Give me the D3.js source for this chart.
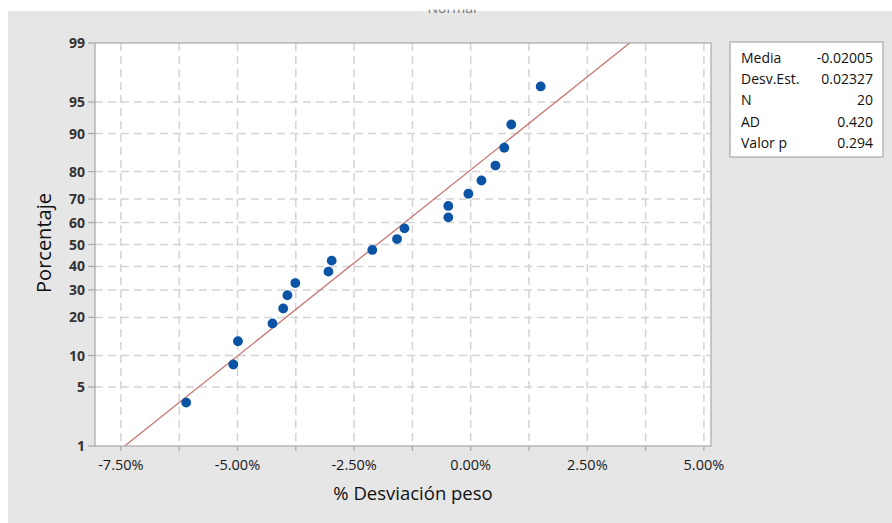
<!DOCTYPE html>
<html>
<head>
<meta charset="utf-8">
<script src="https://cdn.jsdelivr.net/npm/d3@7"></script>
<style>
  body { margin: 0; background: #fff; }
  svg { display: block; font-family: "Open Sans", "Noto Sans", sans-serif; }
</style>
</head>
<body>
<svg id="chart"></svg>
<script>
// % desviación peso, ordenados
var desviacion = [-6.10, -5.09, -4.99, -4.25, -4.02, -3.93, -3.76, -3.05, -2.98, -2.11,
                  -1.58, -1.42, -0.48, -0.48, -0.05, 0.23, 0.53, 0.72, 0.87, 1.50];
// porcentaje (rango mediano) de cada punto
var porcentaje = [3.4, 8.3, 13.2, 18.1, 23.0, 27.9, 32.8, 37.7, 42.6, 47.5,
                  52.5, 57.4, 62.3, 67.2, 72.1, 77.0, 81.9, 86.8, 91.7, 96.6];
var yTicks = [1, 5, 10, 20, 30, 40, 50, 60, 70, 80, 90, 95, 99];
var xTicks = [-7.5, -5, -2.5, 0, 2.5, 5];
var xGrid = [-7.5, -6.25, -5, -3.75, -2.5, -1.25, 0, 1.25, 2.5, 3.75, 5];
var statLabels = ["Media", "Desv.Est.", "N", "AD", "Valor p"];
var statValues = ["-0.02005", "0.02327", "20", "0.420", "0.294"];
var media = -0.02005, desv = 0.02327;

// inversa de la normal (Acklam)
function probit(p) {
  var a = [-39.69683028665376, 220.9460984245205, -275.9285104469687, 138.3577518672690, -30.66479806614716, 2.506628277459239];
  var b = [-54.47609879822406, 161.5858368580409, -155.6989798598866, 66.80131188771972, -13.28068155288572];
  var c = [-0.007784894002430293, -0.3223964580411365, -2.400758277161838, -2.549732539343734, 4.374664141464968, 2.938163982698783];
  var d = [0.007784695709041462, 0.3224671290700398, 2.445134137142996, 3.754408661907416];
  var q, r;
  if (p < 0.02425) {
    q = Math.sqrt(-2 * Math.log(p));
    return (((((c[0]*q+c[1])*q+c[2])*q+c[3])*q+c[4])*q+c[5]) / ((((d[0]*q+d[1])*q+d[2])*q+d[3])*q+1);
  } else if (p > 1 - 0.02425) {
    q = Math.sqrt(-2 * Math.log(1 - p));
    return -(((((c[0]*q+c[1])*q+c[2])*q+c[3])*q+c[4])*q+c[5]) / ((((d[0]*q+d[1])*q+d[2])*q+d[3])*q+1);
  }
  q = p - 0.5; r = q * q;
  return (((((a[0]*r+a[1])*r+a[2])*r+a[3])*r+a[4])*r+a[5])*q / (((((b[0]*r+b[1])*r+b[2])*r+b[3])*r+b[4])*r+1);
}

var width = 892, height = 523;
var pLeft = 95, pRight = 711, pTop = 43, pBottom = 446;

var svg = d3.select("#chart").attr("width", width).attr("height", height);

// fondo gris
svg.append("rect").attr("x", 8).attr("y", 11).attr("width", width - 8).attr("height", height - 11).attr("fill", "#e6e6e6");

// titulo cortado (solo se ve el borde inferior)
svg.append("clipPath").attr("id", "tclip").append("rect")
  .attr("x", 0).attr("y", 9.5).attr("width", width).attr("height", 5);
svg.append("text").attr("clip-path", "url(#tclip)")
  .attr("x", 452).attr("y", 12.5).attr("text-anchor", "middle")
  .attr("font-size", 14).attr("fill", "#777").text("Normal");

var x = d3.scaleLinear().domain([-8.055, 5.152]).range([pLeft, pRight]);
var zScale = d3.scaleLinear().domain([probit(0.01), probit(0.99)]).range([pBottom, pTop]);
var y = function (pct) { return zScale(probit(pct / 100)); };

// area del grafico
svg.append("rect").attr("x", pLeft).attr("y", pTop).attr("width", pRight - pLeft).attr("height", pBottom - pTop)
  .attr("fill", "#fff");

// rejilla
svg.append("g").selectAll("line").data(xGrid).enter().append("line")
  .attr("x1", d => x(d)).attr("x2", d => x(d)).attr("y1", pTop).attr("y2", pBottom)
  .attr("stroke", "#d4d4d4").attr("stroke-width", 1.5).attr("stroke-dasharray", "8,5");
svg.append("g").selectAll("line").data(yTicks.filter(d => d > 1 && d < 99)).enter().append("line")
  .attr("x1", pLeft).attr("x2", pRight).attr("y1", d => y(d)).attr("y2", d => y(d))
  .attr("stroke", "#d4d4d4").attr("stroke-width", 1.5).attr("stroke-dasharray", "8,5");

// recta ajustada
var zLo = probit(0.01), zHi = probit(0.99);
svg.append("line")
  .attr("x1", x((media + desv * zLo) * 100)).attr("y1", zScale(zLo))
  .attr("x2", x((media + desv * zHi) * 100)).attr("y2", zScale(zHi))
  .attr("stroke", "#c77570").attr("stroke-width", 1.3);

// puntos
svg.append("g").selectAll("circle").data(desviacion).enter().append("circle")
  .attr("cx", d => x(d)).attr("cy", (d, i) => y(porcentaje[i]))
  .attr("r", 4.9).attr("fill", "#0b54a5");

// marco
svg.append("rect").attr("x", pLeft).attr("y", pTop).attr("width", pRight - pLeft).attr("height", pBottom - pTop)
  .attr("fill", "none").attr("stroke", "#a8a8a8").attr("stroke-width", 1.2);

// eje y
var gy = svg.append("g");
gy.selectAll("line").data(yTicks).enter().append("line")
  .attr("x1", pLeft - 7).attr("x2", pLeft).attr("y1", d => y(d)).attr("y2", d => y(d))
  .attr("stroke", "#a8a8a8").attr("stroke-width", 1.2);
gy.selectAll("text").data(yTicks).enter().append("text")
  .attr("x", 85).attr("y", d => y(d)).attr("dy", "0.36em").attr("text-anchor", "end")
  .attr("font-size", 14).attr("font-weight", "bold").attr("fill", "#333").text(d => d);

// eje x
var gx = svg.append("g");
gx.selectAll("line").data(xGrid).enter().append("line")
  .attr("x1", d => x(d)).attr("x2", d => x(d)).attr("y1", pBottom).attr("y2", pBottom + 5)
  .attr("stroke", "#a8a8a8").attr("stroke-width", 1.2);
gx.selectAll("text").data(xTicks).enter().append("text")
  .attr("x", d => x(d)).attr("y", 470).attr("text-anchor", "middle")
  .attr("font-size", 14.5).attr("fill", "#1a1a1a")
  .text(d => d3.format(".2f")(d).replace("\u2212", "-") + "%");

// titulos de ejes
svg.append("text").attr("x", 413).attr("y", 500).attr("text-anchor", "middle")
  .attr("font-size", 18.5).attr("fill", "#111").text("% Desviación peso");
svg.append("text").attr("transform", "translate(51,243) rotate(-90)").attr("text-anchor", "middle")
  .attr("font-size", 20).attr("fill", "#111").text("Porcentaje");

// cuadro de estadisticas
svg.append("rect").attr("x", 730).attr("y", 42).attr("width", 153).attr("height", 115)
  .attr("fill", "#fff").attr("stroke", "#a8a8a8").attr("stroke-width", 1.2);
var rows = svg.append("g").selectAll("g").data(statLabels).enter().append("g")
  .attr("transform", (d, i) => `translate(0,${58 + i * 21.2})`);
rows.append("text").attr("x", 741).attr("dy", "0.36em").attr("font-size", 14).attr("fill", "#111").text(d => d);
rows.append("text").attr("x", 873).attr("dy", "0.36em").attr("text-anchor", "end")
  .attr("font-size", 14).attr("fill", "#111").text((d, i) => statValues[i]);
</script>
</body>
</html>
